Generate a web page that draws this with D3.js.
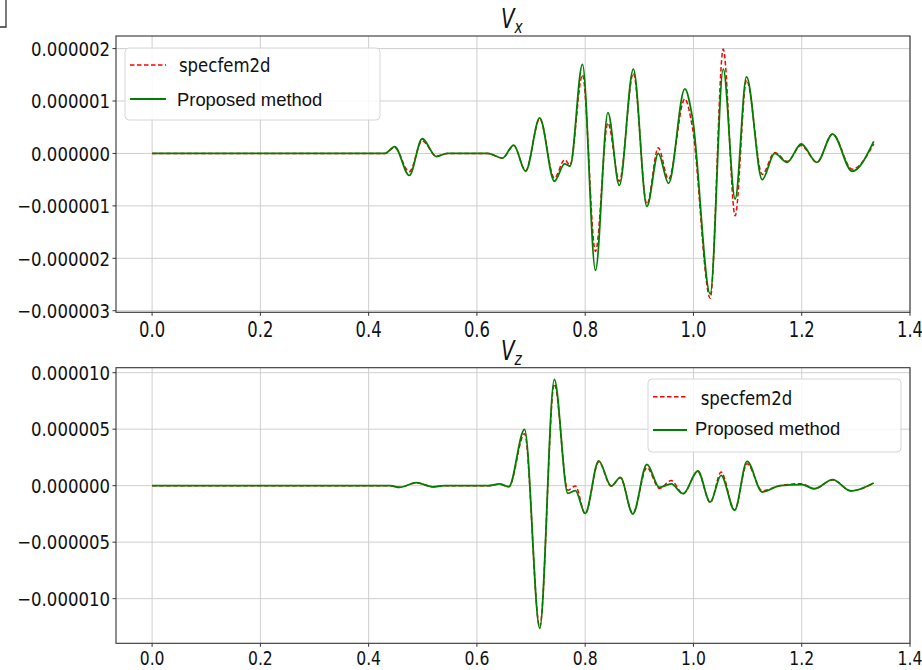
<!DOCTYPE html>
<html><head><meta charset="utf-8">
<script src="https://cdn.jsdelivr.net/npm/d3@7"></script>
<style>
html,body{margin:0;padding:0;background:#fff;}
svg{display:block;}
.cond{font-family:"DejaVu Sans Condensed","DejaVu Sans",sans-serif;font-stretch:condensed;}
</style></head>
<body>
<svg id="chart" width="922" height="670"></svg>
<script>
// ---- data (values in units of 1e-6) ----
const seriesNames = ["specfem2d", "Proposed method"];
const xTicks = [0.0, 0.2, 0.4, 0.6, 0.8, 1.0, 1.2, 1.4];
const xTickLabels = ["0.0", "0.2", "0.4", "0.6", "0.8", "1.0", "1.2", "1.4"];
const yTicksX = [-3, -2, -1, 0, 1, 2];
const yTickLabelsX = ["\u22120.000003", "\u22120.000002", "\u22120.000001", "0.000000", "0.000001", "0.000002"];
const yTicksZ = [-10, -5, 0, 5, 10];
const yTickLabelsZ = ["\u22120.000010", "\u22120.000005", "0.000000", "0.000005", "0.000010"];

const tX = [0, 0.43, 0.448, 0.475, 0.499, 0.525, 0.545, 0.62, 0.647, 0.668, 0.690, 0.716, 0.743, 0.762, 0.772, 0.795, 0.819, 0.842, 0.863, 0.889, 0.914, 0.935, 0.954, 0.984, 0.998, 1.031, 1.055, 1.077, 1.098, 1.127, 1.150, 1.173, 1.199, 1.228, 1.257, 1.293, 1.333];
const vxSpec = [0, 0, 0.11, -0.35, 0.24, -0.05, 0, 0, -0.09, 0.15, -0.33, 0.66, -0.47, -0.12, -0.22, 1.50, -1.87, 0.58, -0.53, 1.53, -0.97, 0.11, -0.49, 1.04, 0.50, -2.76, 1.99, -1.19, 1.40, -0.40, 0.02, -0.15, 0.15, -0.17, 0.37, -0.30, 0.18];
const vxProp = [0, 0, 0.13, -0.42, 0.28, -0.06, 0, 0, -0.09, 0.16, -0.34, 0.68, -0.53, -0.20, -0.24, 1.70, -2.23, 0.78, -0.61, 1.61, -1.01, 0.00, -0.57, 1.23, 0.69, -2.68, 1.61, -0.87, 1.46, -0.50, 0.00, -0.17, 0.18, -0.17, 0.37, -0.34, 0.23];

const tZ = [0, 0.44, 0.457, 0.488, 0.518, 0.54, 0.62, 0.642, 0.659, 0.688, 0.716, 0.743, 0.768, 0.782, 0.800, 0.825, 0.848, 0.865, 0.888, 0.914, 0.937, 0.959, 0.981, 1.008, 1.031, 1.051, 1.076, 1.099, 1.127, 1.16, 1.20, 1.223, 1.257, 1.291, 1.333];
const vzSpec = [0, 0, -0.15, 0.25, -0.1, 0, 0, 0.12, -0.1, 4.60, -12.50, 9.00, -0.40, -0.02, -2.50, 2.10, -0.05, 0.70, -2.45, 1.60, -0.25, 0.45, -0.72, 1.25, -1.50, 1.20, -2.15, 1.95, -0.45, 0.0, 0.18, -0.28, 0.50, -0.45, 0.22];
const vzProp = [0, 0, -0.15, 0.27, -0.1, 0, 0, 0.15, -0.09, 4.99, -12.62, 9.41, -0.68, -0.44, -2.45, 2.20, -0.03, 0.73, -2.51, 1.89, -0.15, 0.15, -0.71, 1.30, -1.45, 0.91, -2.18, 2.15, -0.56, 0.0, 0.10, -0.27, 0.53, -0.47, 0.24];

// ---- layout ----
const svg = d3.select("#chart");
const L = 116, R = 910;
const x = d3.scaleLinear().domain([-0.0667, 1.4]).range([L, R]);
const colors = ["#ff0000", "#008000"];
const SQ = 0.92; // horizontal squeeze of label text

function label(parent, px, py, txt, anchor, size, sx) {
  return parent.append("text").attr("class", "cond")
    .attr("transform", `translate(${px},${py}) scale(${sx},1)`)
    .attr("text-anchor", anchor).attr("font-size", size).attr("fill", "#111").text(txt);
}

function panel(top, bottom, yDomain, yTicks, yLabels, tArr, specArr, propArr, sub, xLabOff, xLabSize) {
  const y = d3.scaleLinear().domain(yDomain).range([bottom, top]);
  const g = svg.append("g");
  g.selectAll(".gx").data(xTicks).enter().append("line")
    .attr("x1", d => x(d)).attr("x2", d => x(d)).attr("y1", top).attr("y2", bottom)
    .attr("stroke", "#cfcfcf").attr("stroke-width", 1);
  g.selectAll(".gy").data(yTicks).enter().append("line")
    .attr("x1", L).attr("x2", R).attr("y1", d => y(d)).attr("y2", d => y(d))
    .attr("stroke", "#cfcfcf").attr("stroke-width", 1);
  const clipId = "clip" + sub;
  svg.append("clipPath").attr("id", clipId).append("rect")
    .attr("x", L).attr("y", top).attr("width", R - L).attr("height", bottom - top);
  const line = d3.line().x(d => x(d[0])).y(d => y(d[1])).curve(d3.curveMonotoneX);
  const specData = tArr.map((t, i) => [t, specArr[i]]);
  const propData = tArr.map((t, i) => [t, propArr[i]]);
  g.append("path").datum(specData).attr("d", line).attr("fill", "none")
    .attr("stroke", colors[0]).attr("stroke-width", 1.5).attr("stroke-dasharray", "4.5,2.5")
    .attr("clip-path", `url(#${clipId})`);
  g.append("path").datum(propData).attr("d", line).attr("fill", "none")
    .attr("stroke", colors[1]).attr("stroke-width", 1.8)
    .attr("clip-path", `url(#${clipId})`);
  g.append("rect").attr("x", L).attr("y", top).attr("width", R - L).attr("height", bottom - top)
    .attr("fill", "none").attr("stroke", "#333").attr("stroke-width", 1.1);
  g.selectAll(".ty").data(yTicks).enter().append("line")
    .attr("x1", L - 3.5).attr("x2", L).attr("y1", d => y(d)).attr("y2", d => y(d))
    .attr("stroke", "#333").attr("stroke-width", 1);
  yTicks.forEach((d, i) => label(g, L - 6, y(d) + 7.3, yLabels[i], "end", 20, SQ));
  g.selectAll(".tx").data(xTicks).enter().append("line")
    .attr("x1", d => x(d)).attr("x2", d => x(d)).attr("y1", bottom).attr("y2", bottom + 3.5)
    .attr("stroke", "#333").attr("stroke-width", 1);
  xTicks.forEach((d, i) => label(g, x(d), bottom + xLabOff, xTickLabels[i], "middle", xLabSize, 0.89));
  const tt = svg.append("text").attr("class", "cond")
    .attr("transform", `translate(501,${top - 8}) scale(0.85,1)`).attr("fill", "#111");
  tt.append("tspan").attr("font-style", "italic").attr("font-size", 26).text("V");
  tt.append("tspan").attr("font-style", "italic").attr("font-size", 18).attr("dy", 5).text(sub);
  return y;
}

panel(36, 312.3, [-3.03, 2.24], yTicksX, yTickLabelsX, tX, vxSpec, vxProp, "x", 24.5, 20.5);
panel(367.7, 643.3, [-13.95, 10.44], yTicksZ, yTickLabelsZ, tZ, vzSpec, vzProp, "z", 21.5, 19.5);

function legend(bx, by, bw, bh, lx1, lx2, y1, y2, tx1, ty1, tx2, ty2) {
  const g = svg.append("g");
  g.append("rect").attr("x", bx).attr("y", by).attr("width", bw).attr("height", bh)
    .attr("rx", 4).attr("fill", "#fff").attr("fill-opacity", 0.85)
    .attr("stroke", "#d6d6d6").attr("stroke-width", 1);
  g.append("line").attr("x1", lx1).attr("x2", lx2).attr("y1", y1).attr("y2", y1)
    .attr("stroke", colors[0]).attr("stroke-width", 1.5).attr("stroke-dasharray", "4.5,2.5");
  g.append("line").attr("x1", lx1).attr("x2", lx2).attr("y1", y2).attr("y2", y2)
    .attr("stroke", colors[1]).attr("stroke-width", 1.8);
  label(g, tx1, ty1, seriesNames[0], "start", 20, SQ);
  g.append("text").attr("x", tx2).attr("y", ty2)
    .attr("font-family", "'Liberation Sans', Arial, sans-serif")
    .attr("font-size", 18.4).attr("fill", "#111").text(seriesNames[1]);
}
legend(125, 48, 255, 72, 130, 166, 65, 99, 179, 72, 177, 106);
legend(648, 379, 253, 73, 653, 687, 396.7, 430, 700.7, 405, 695, 435);

svg.append("path").attr("d", "M6,0 V27 H0").attr("fill", "none")
  .attr("stroke", "#333").attr("stroke-width", 1.3);
</script>
</body></html>
